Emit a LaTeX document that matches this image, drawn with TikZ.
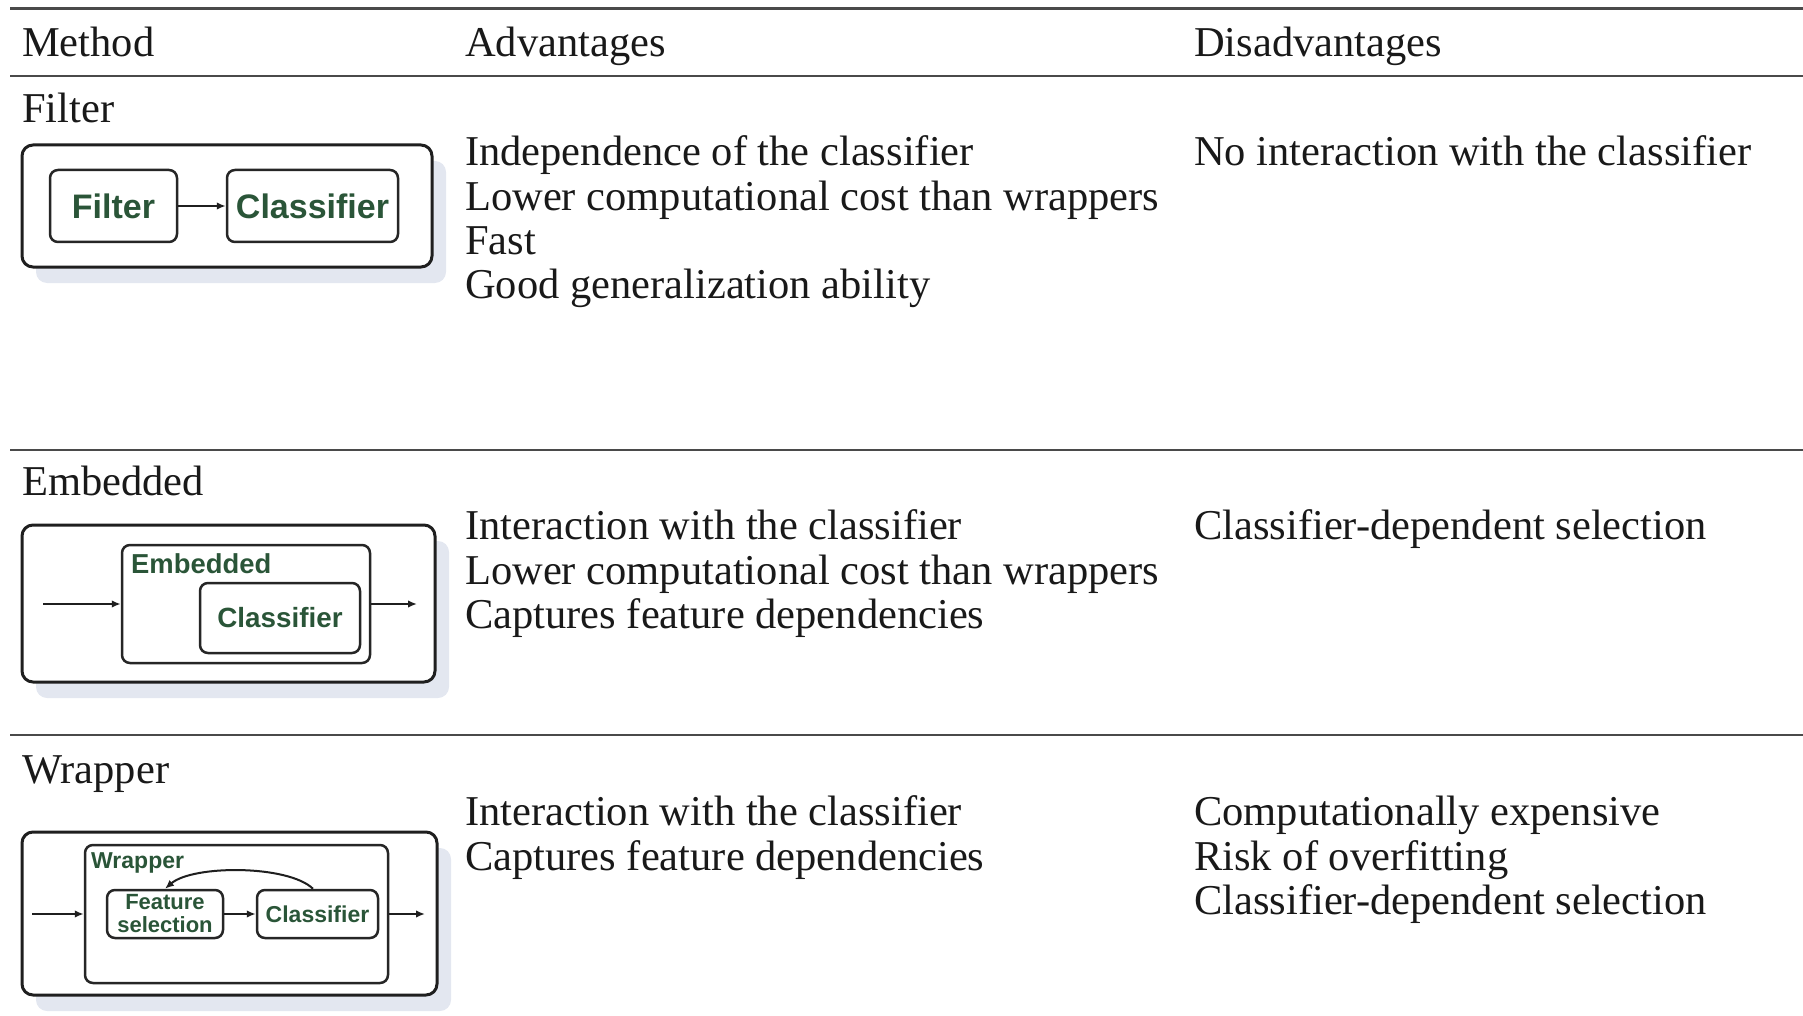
\documentclass[tikz,border=0pt]{standalone}
\usepackage{fontspec}
\setmainfont{Liberation Serif}
\newfontfamily\diagfont{Liberation Sans}
\usetikzlibrary{arrows.meta,shadows}
\definecolor{rulegray}{HTML}{4A4A4A}
\definecolor{dgreen}{HTML}{2A5538}
\definecolor{shadowc}{HTML}{E3E7F0}
\begin{document}
\begin{tikzpicture}[x=1pt,y=-1pt,
  txt/.style={anchor=base west, font=\fontsize{42.5}{44}\selectfont, inner sep=0pt, text=black!90},
  rulel/.style={draw=rulegray, line width=2pt},
  outerbox/.style={draw=black!88, fill=white, line width=3pt, rounded corners=11pt,
     general shadow={fill=shadowc, shadow xshift=14pt, shadow yshift=-16pt}},
  innerbox/.style={draw=black!85, fill=white, line width=2.5pt, rounded corners=8pt, inner sep=0pt, text=dgreen},
  arr/.style={-{Latex[length=9pt,width=7.5pt]}, line width=2pt, draw=black!88},
  lab/.style={text=dgreen, inner sep=0pt}
]
\useasboundingbox (0,0) rectangle (1803,1016);

% table rules
\draw[rulel, line width=3pt] (10,9) -- (1803,9);
\draw[rulel] (10,76) -- (1803,76);
\draw[rulel] (10,450) -- (1803,450);
\draw[rulel] (10,735) -- (1803,735);

% header
\node[txt] (hm) at (22,56.5) {Method};
\node[txt] (ha) at (465,56.5) {Advantages};
\node[txt] (hd) at (1194,56.5) {Disadvantages};

% Filter row
\node[txt] (mf) at (22,122.5) {Filter};
\node[txt] (fa1) at (465,165.5) {Independence of the classifier};
\node[txt] (fa2) at (465,210.5) {Lower computational cost than wrappers};
\node[txt] (fa3) at (465,254.5) {Fast};
\node[txt] (fa4) at (465,298.5) {Good generalization ability};
\node[txt] (fd1) at (1194,165.5) {No interaction with the classifier};

% Embedded row
\node[txt] (me) at (22,495.5) {Embedded};
\node[txt] (ea1) at (465,539.5) {Interaction with the classifier};
\node[txt] (ea2) at (465,584.5) {Lower computational cost than wrappers};
\node[txt] (ea3) at (465,628.5) {Captures feature dependencies};
\node[txt] (ed1) at (1194,539.5) {Classifier-dependent selection};

% Wrapper row
\node[txt] (mw) at (22,783) {Wrapper};
\node[txt] (wa1) at (465,825.5) {Interaction with the classifier};
\node[txt] (wa2) at (465,870) {Captures feature dependencies};
\node[txt] (wd1) at (1194,825.5) {Computationally expensive};
\node[txt] (wd2) at (1194,870) {Risk of overfitting};
\node[txt] (wd3) at (1194,914) {Classifier-dependent selection};

% ---- Filter diagram
\node[outerbox, minimum width=410pt, minimum height=122pt] (fout) at (227,206) {};
\node[innerbox, minimum width=127pt, minimum height=72pt,
      font=\diagfont\bfseries\fontsize{34}{36}\selectfont] (ffil) at (113.5,206) {Filter};
\node[innerbox, minimum width=171pt, minimum height=72pt,
      font=\diagfont\bfseries\fontsize{34}{36}\selectfont] (fcls) at (312.5,206) {Classifier};
\draw[arr] (ffil.east) -- (fcls.west);

% ---- Embedded diagram
\node[outerbox, minimum width=413pt, minimum height=157pt] (eout) at (228.5,603.5) {};
\node[innerbox, minimum width=248pt, minimum height=118pt] (ebox) at (246,604) {};
\node[lab, anchor=base west, font=\diagfont\bfseries\fontsize{27.4}{29}\selectfont] (elab) at (131,573) {Embedded};
\node[innerbox, minimum width=160pt, minimum height=70pt,
      font=\diagfont\bfseries\fontsize{27.8}{29}\selectfont] (ecls) at (280,618) {Classifier};
\coordinate (ein) at (43,604);
\coordinate (eoutp) at (417,604);
\draw[arr] (ein) -- (ebox.west);
\draw[arr] (ebox.east) -- (eoutp);

% ---- Wrapper diagram
\node[outerbox, minimum width=415pt, minimum height=163pt] (wout) at (229.5,913.5) {};
\node[innerbox, minimum width=303pt, minimum height=138pt] (wbox) at (236.5,914) {};
\node[lab, anchor=base west, font=\diagfont\bfseries\fontsize{23}{24}\selectfont] (wlab) at (91,868) {Wrapper};
\node[innerbox, minimum width=116pt, minimum height=48pt, align=center,
      font=\diagfont\bfseries\fontsize{22}{23}\selectfont] (wfs) at (165,914) {Feature\\selection};
\node[innerbox, minimum width=121pt, minimum height=48pt,
      font=\diagfont\bfseries\fontsize{23}{24}\selectfont] (wcls) at (317.5,914) {Classifier};
\coordinate (win) at (32,914);
\coordinate (woutp) at (425,914);
\draw[arr] (win) -- (wbox.west);
\draw[arr] (wbox.east) -- (woutp);
\draw[arr] (wfs.east) -- (wcls.west);
\draw[arr] ([xshift=-4.5pt]wcls.north) .. controls +(-25,-24) and +(28,-24) .. (wfs.north);
\end{tikzpicture}
\end{document}
